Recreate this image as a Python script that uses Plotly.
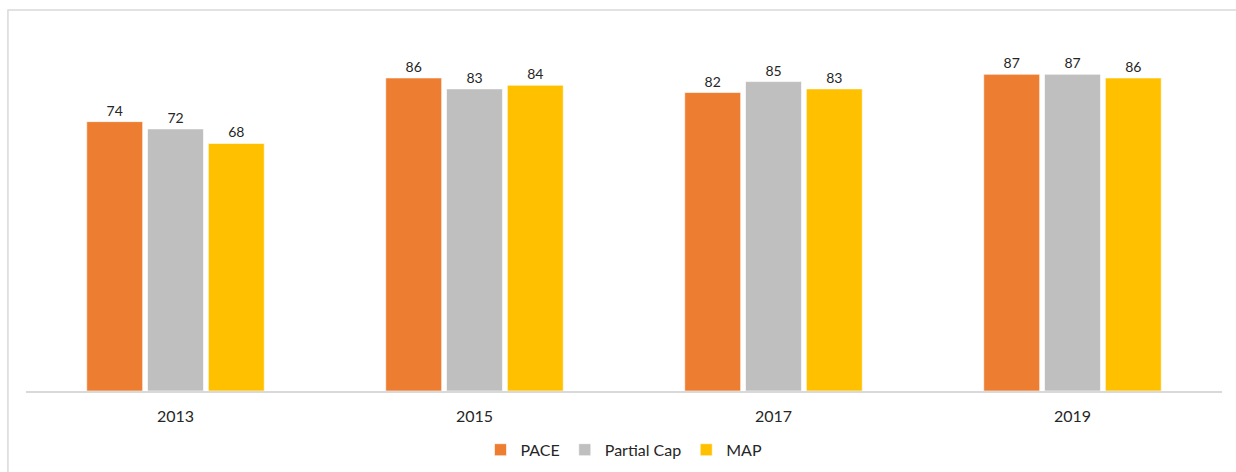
import plotly.graph_objects as go

years = ["2013", "2015", "2017", "2019"]
pace = [74, 86, 82, 87]
partial_cap = [72, 83, 85, 87]
map_vals = [68, 84, 83, 86]

series = [
    ("PACE", pace, "#ED7D31"),
    ("Partial Cap", partial_cap, "#BFBFBF"),
    ("MAP", map_vals, "#FFC000"),
]

FONT = "Lato, 'Noto Sans', sans-serif"

fig = go.Figure()
for name, vals, color in series:
    fig.add_trace(go.Bar(
        name=name,
        x=years,
        y=vals,
        marker=dict(color=color, line=dict(color="rgba(255,255,255,0.6)", width=1)),
        text=[str(v) for v in vals],
        textposition="outside",
        textfont=dict(family=FONT, size=14, color="#262626"),
        cliponaxis=False,
    ))

# outer chart frame
fig.add_shape(
    type="rect", xref="paper", yref="paper",
    x0=-0.0151, x1=1.05, y0=-0.3, y1=1.0467,
    line=dict(color="#D9D9D9", width=1.5), fillcolor="rgba(0,0,0,0)",
    layer="below",
)

fig.update_layout(
    width=1236, height=472,
    margin=dict(l=26, r=14, t=27, b=81, autoexpand=False),
    paper_bgcolor="white", plot_bgcolor="white",
    barmode="group",
    bargap=0.39,
    bargroupgap=0.08,
    showlegend=True,
    legend=dict(
        orientation="h", x=0.5, xanchor="center",
        yref="container", y=0.047, yanchor="middle",
        font=dict(family=FONT, size=16, color="#262626"),
        itemwidth=30, traceorder="normal",
    ),
    xaxis=dict(
        showline=True, linecolor="#D9D9D9", linewidth=1.5,
        showgrid=False, ticks="", automargin=False,
        ticklabelstandoff=10,
        tickfont=dict(family=FONT, size=16, color="#262626"),
    ),
    yaxis=dict(range=[0, 100], visible=False, showgrid=False, zeroline=False,
               automargin=False),
)

fig.write_html("out.html")
